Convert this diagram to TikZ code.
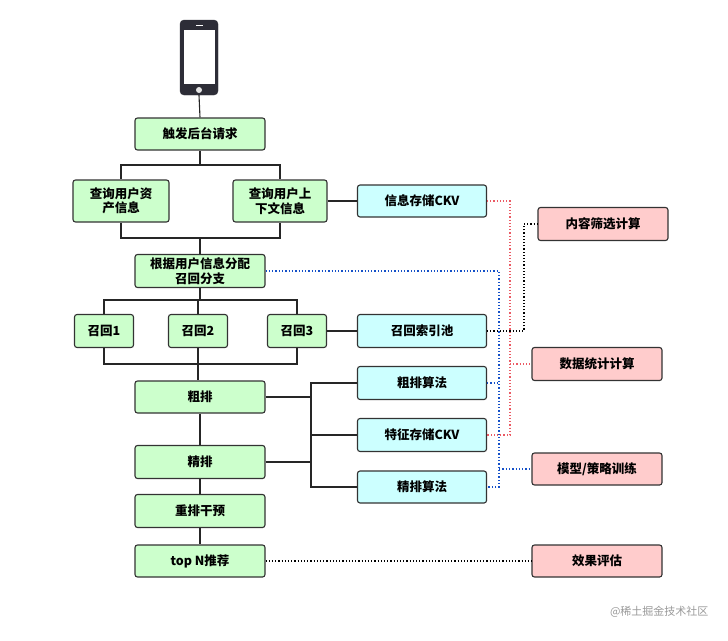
\documentclass[tikz,border=0pt]{standalone}
\usepackage{fontspec}
\setmainfont{Noto Sans CJK SC}
\begin{document}
\begin{tikzpicture}[x=1pt,y=-1pt,
  base/.style={draw=black!80,line width=1.1pt,rounded corners=2.5pt,font=\bfseries\fontsize{12.5}{14.5}\selectfont,align=center,inner sep=1pt},
  g/.style={base,fill={rgb,255:red,204;green,255;blue,204}},
  c/.style={base,fill={rgb,255:red,204;green,255;blue,255}},
  p/.style={base,fill={rgb,255:red,255;green,204;blue,204}},
  ln/.style={draw=black!85,line width=1.1pt},
  rd/.style={draw={rgb,255:red,235;green,90;blue,100},dotted,line width=1.2pt},
  bd/.style={draw={rgb,255:red,20;green,80;blue,200},dotted,line width=1.3pt},
  kd/.style={draw=black,dotted,line width=1.2pt}]
\useasboundingbox (0,0) rectangle (728,640);
% phone
\node[draw={rgb,255:red,45;green,45;blue,55},fill={rgb,255:red,45;green,45;blue,55},rounded corners=4pt,minimum width=38pt,minimum height=75pt,inner sep=0] (phone) at (199,57.5) {};
\fill[white] (183.5,30) rectangle (214.5,84);
\draw[white,line width=1pt] (196,25) -- (203,25);
\fill[white!90!black] (199,90) circle (3pt);
\node[g,minimum width=130pt,minimum height=32pt] (trig) at (200,134) {触发后台请求};
\node[g,minimum width=96pt,minimum height=42pt] (asset) at (121,201) {查询用户资\\产信息};
\node[g,minimum width=94pt,minimum height=42pt] (ctx) at (280,201) {查询用户上\\下文信息};
\node[c,minimum width=129pt,minimum height=32pt] (ckv) at (422,201) {信息存储CKV};
\node[g,minimum width=130pt,minimum height=33pt] (dist) at (200,271) {根据用户信息分配\\召回分支};
\node[g,minimum width=59pt,minimum height=33pt] (r1) at (104,331) {召回1};
\node[g,minimum width=59pt,minimum height=33pt] (r2) at (198,331) {召回2};
\node[g,minimum width=59pt,minimum height=33pt] (r3) at (297,331) {召回3};
\node[c,minimum width=129pt,minimum height=33pt] (pool) at (422,331) {召回索引池};
\node[g,minimum width=130pt,minimum height=32pt] (cp) at (200,397) {粗排};
\node[g,minimum width=130pt,minimum height=33pt] (jp) at (200,462) {精排};
\node[g,minimum width=130pt,minimum height=33pt] (cz) at (200,511) {重排干预};
\node[g,minimum width=130pt,minimum height=32pt] (top) at (200,561) {top N推荐};
\node[c,minimum width=129pt,minimum height=33pt] (cpa) at (422,383) {粗排算法};
\node[c,minimum width=129pt,minimum height=33pt] (fckv) at (422,435) {特征存储CKV};
\node[c,minimum width=129pt,minimum height=32pt] (jpa) at (422,487) {精排算法};
\node[p,minimum width=130pt,minimum height=33pt] (nr) at (603,224) {内容筛选计算};
\node[p,minimum width=130pt,minimum height=33pt] (sj) at (597,364) {数据统计计算};
\node[p,minimum width=130pt,minimum height=32pt] (mx) at (597,469) {模型/策略训练};
\node[p,minimum width=130pt,minimum height=32pt] (xg) at (597,561) {效果评估};
\node[text=black!40,font=\fontsize{11}{12}\selectfont,anchor=east] (wm) at (712,612) {@稀土掘金技术社区};
% solid connectors
\draw[ln] (phone.south) -- (trig.north);
\draw[ln] (trig.south) -- (200,165) -| (asset.north);
\draw[ln] (200,165) -| (ctx.north);
\draw[ln] (asset.south) |- (200,238) -| (ctx.south);
\draw[ln] (200,238) -- (dist.north);
\draw[ln] (ctx.east) -- (ckv.west);
\draw[ln] (dist.south) -- (200,300) -| (r1.north);
\draw[ln] (200,300) -| (r3.north);
\draw[ln] (198,300) -- (r2.north);
\draw[ln] (r1.south) |- (198,364) -| (r3.south);
\draw[ln] (r2.south) -- (198,364) -- (cp.north -| 198,0);
\draw[ln] (r3.east) -- (pool.west);
\draw[ln] (cp.south) -- (jp.north);
\draw[ln] (jp.south) -- (cz.north);
\draw[ln] (cz.south) -- (top.north);
\coordinate (bt) at (311,383);
\coordinate (bb) at (311,487);
\draw[ln] (cp.east) -- (311,397);
\draw[ln] (jp.east) -- (311,462);
\draw[ln] (cpa.west) -- (bt) -- (bb) -- (jpa.west);
\draw[ln] (311,435) -- (fckv.west);
% dotted
\draw[rd] (ckv.east) -- (510,201) -- (510,435) -- (fckv.east);
\draw[rd] (510,364) -- (sj.west);
\draw[kd] (pool.east) -- (524,331) -- (524,224) -- (nr.west);
\draw[bd] (dist.east) -- (499,271) -- (499,487) -- (jpa.east);
\draw[bd] (cpa.east) -- (499,383);
\draw[bd] (499,469) -- (mx.west);
\draw[kd] (top.east) -- (xg.west);
\end{tikzpicture}
\end{document}
